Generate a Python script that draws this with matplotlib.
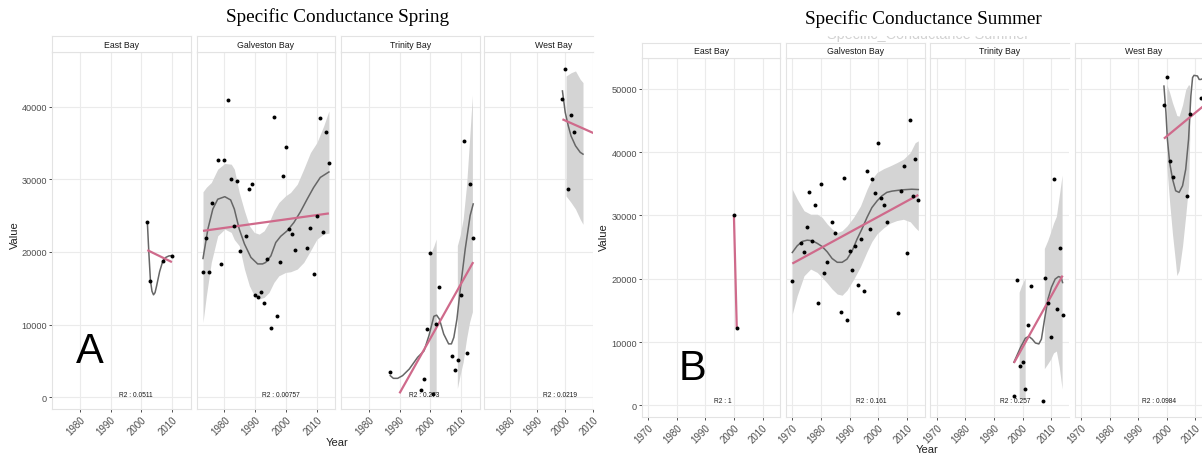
import numpy as np
import matplotlib.pyplot as plt

plt.rcParams['font.family'] = ['Liberation Sans', 'DejaVu Sans']

nan = np.nan
bays = ['East Bay', 'Galveston Bay', 'Trinity Bay', 'West Bay']

# ---------------- Spring (A) ----------------
spr_years = {
    'East Bay': [2002, 2003, 2007, 2010],
    'Galveston Bay': [1973, 1974, 1975, 1976, 1978, 1979, 1980, 1981, 1982, 1983,
                      1984, 1985, 1987, 1988, 1989, 1990, 1991, 1992, 1993, 1994,
                      1995, 1996, 1997, 1998, 1999, 2000, 2001, 2002, 2003, 2007,
                      2008, 2009, 2010, 2011, 2012, 2013, 2014],
    'Trinity Bay': [1987, 1997, 1998, 1999, 2000, 2001, 2002, 2003, 2007, 2008,
                    2009, 2010, 2011, 2012, 2013, 2014],
    'West Bay': [1999, 2000, 2001, 2002, 2003],
}
spr_vals = {
    'East Bay': [24100, 15950, 18700, 19500],
    'Galveston Bay': [17300, 21850, 17200, 26750, 32700, 18300, 32650, 40900, 30000, 23600,
                      29700, 20150, 22250, 28700, 29350, 14050, 13750, 14450, 12950, 19050,
                      9600, 38500, 11250, 18650, 30400, 34500, 23150, 22450, 20250, 20550,
                      23300, 16950, 24900, 38400, 22750, 36550, 32200],
    'Trinity Bay': [3450, 1050, 2500, 9400, 19900, 450, 10100, 15200, 5650, 3800,
                    5200, 14050, 35250, 6150, 29350, 21950],
    'West Bay': [41100, 45200, 28650, 38850, 36500],
}
spr_smooth_x = {
    'East Bay': [2002, 2002.5, 2003, 2003.5, 2004, 2004.5, 2005, 2005.5, 2006, 2007, 2008, 2009, 2010],
    'Galveston Bay': [1973, 1974.6, 1976.2, 1977.8, 1980.1, 1982.0, 1983.2, 1984.8, 1986.5, 1988.6,
                      1990.8, 1992.4, 1993.4, 1995.1, 1996.7, 1998.3, 2000.4, 2002.6, 2004.7, 2006.9,
                      2009.0, 2011.2, 2014],
    'Trinity Bay': [1987, 1988, 1989.4, 1991, 1993.2, 1995.9, 1998, 1999.6, 2001.2, 2002.1,
                    2003, 2004.4, 2006, 2006.9, 2007.7, 2008.7, 2009.8, 2011.4, 2013, 2014],
    'West Bay': [1999, 2000, 2001.1, 2002.1, 2003.7, 2005.4, 2006.4],
}
spr_smooth_y = {
    'East Bay': [24100, 19800, 16100, 14600, 14100, 14400, 15300, 16300, 17300, 18700, 19250, 19450, 19500],
    'Galveston Bay': [19100, 23150, 25900, 27250, 27600, 27150, 25900, 23150, 21100, 19250,
                      18350, 18350, 18550, 19450, 21300, 22150, 22900, 24050, 25500, 27250,
                      28850, 30250, 31000],
    'Trinity Bay': [2980, 2610, 2610, 2980, 3900, 5500, 6400, 8500, 11150, 11300,
                    10750, 8700, 7350, 7350, 8250, 10750, 14900, 20400, 25000, 26600],
    'West Bay': [42150, 39200, 37350, 35950, 34600, 33700, 33450],
}
spr_band_x = {
    'East Bay': [],
    'Galveston Bay': [1973, 1974.1, 1975.7, 1977.8, 1980.1, 1982.2, 1983.2, 1984.8, 1986.5, 1988.1,
                      1989.7, 1991.3, 1992.9, 1994.5, 1996.1, 1997.7, 1999.9, 2001.5, 2003.7, 2005.8,
                      2008.0, 2010.1, 2012.3, 2014],
    'Trinity Bay': [1999.9, 2000.6, 2001.4, 2002.1, nan, 2009.0, 2009.9, 2010.9, 2012.0, 2013.0, 2013.9],
    'West Bay': [2000.3, 2002.1, 2003.7, 2005.4, 2006.4],
}
spr_band_hi = {
    'East Bay': [],
    'Galveston Bay': [28270, 28900, 29550, 31390, 32170, 32070, 31390, 28180, 25660, 23600,
                      22680, 22450, 22910, 24060, 25660, 26800, 27720, 28180, 29320, 31390,
                      33680, 35050, 37340, 39400],
    'Trinity Bay': [19400, 20000, 20800, 21700, nan, 20800, 22200, 24500, 29100, 35500, 41500],
    'West Bay': [44200, 44650, 44900, 43750, 43300],
}
spr_band_lo = {
    'East Bay': [],
    'Galveston Bay': [10310, 13980, 18560, 22220, 23140, 22680, 21700, 20850, 17640, 15350,
                      13980, 13520, 13750, 14430, 15810, 16720, 17180, 17270, 17640, 18560,
                      20160, 21760, 22450, 22590],
    'Trinity Bay': [250, 200, 200, 250, nan, 1150, 3000, 4800, 8000, 10300, 11700],
    'West Bay': [27700, 26800, 25900, 24500, 23800],
}
spr_lm_x = {'East Bay': [2002, 2010], 'Galveston Bay': [1973, 2014],
            'Trinity Bay': [1990, 2014], 'West Bay': [1999, 2014]}
spr_lm_y = {'East Bay': [20250, 18600], 'Galveston Bay': [22900, 25300],
            'Trinity Bay': [550, 18600], 'West Bay': [38250, 35700]}
spr_r2 = ['R2 : 0.0511', 'R2 : 0.00757', 'R2 : 0.273', 'R2 : 0.0219']

# ---------------- Summer (B) ----------------
sum_years = {
    'East Bay': [2000, 2001],
    'Galveston Bay': [1970, 1973, 1974, 1975, 1976, 1977, 1978, 1979, 1980, 1981,
                      1982, 1984, 1985, 1987, 1988, 1989, 1990, 1991, 1992, 1993,
                      1994, 1995, 1996, 1997, 1998, 1999, 2000, 2001, 2002, 2003,
                      2007, 2008, 2009, 2010, 2011, 2012, 2013, 2014],
    'Trinity Bay': [1997, 1998, 1999, 2000, 2001, 2002, 2003, 2007, 2008, 2009,
                    2010, 2011, 2012, 2013, 2014],
    'West Bay': [1999, 2000, 2001, 2002, 2007, 2008, 2012],
}
sum_vals = {
    'East Bay': [30100, 12200],
    'Galveston Bay': [19700, 25700, 24300, 28250, 33700, 26000, 31600, 16200, 35000, 20850,
                      22700, 29000, 27200, 14700, 36000, 13550, 24450, 21350, 25100, 18950,
                      26300, 18100, 37050, 27900, 35800, 33550, 41400, 32800, 31650, 29000,
                      14550, 33850, 37800, 24000, 45150, 33050, 39000, 32400],
    'Trinity Bay': [1450, 19750, 6200, 6900, 2500, 12650, 18900, 700, 20150, 16100,
                    10750, 35750, 15250, 24800, 14300],
    'West Bay': [47450, 51900, 38550, 36100, 33150, 46100, 48550],
}
sum_smooth_x = {
    'East Bay': [],
    'Galveston Bay': [1970, 1971.7, 1973.5, 1975.2, 1977, 1978.7, 1980.4, 1982.2, 1983.9, 1985.7,
                      1987.4, 1989.1, 1990.9, 1992.6, 1994.3, 1996.1, 1997.8, 1999.6, 2001.3, 2003,
                      2004.8, 2006.5, 2008.3, 2010, 2011.7, 2014],
    'Trinity Bay': [1997, 1999.3, 2001, 2002.2, 2003.4, 2004.5, 2005.7, 2006.6, 2007.7, 2008.9,
                    2010.1, 2011.4, 2012.6, 2013.5, 2014],
    'West Bay': [1999, 1999.7, 2000.2, 2001, 2002, 2003.1, 2004.3, 2005.5, 2006.6, 2007.6,
                 2008.4, 2009, 2009.5, 2010.7, 2011.3, 2011.9, 2012.6],
}
sum_smooth_y = {
    'East Bay': [],
    'Galveston Bay': [24150, 25200, 25900, 26100, 26000, 25600, 25100, 24250, 23200, 22600,
                      22600, 23100, 24400, 26250, 27850, 29700, 31250, 32300, 33100, 33650,
                      33850, 33950, 34050, 34100, 34150, 34100],
    'Trinity Bay': [6800, 9150, 10600, 10900, 10450, 9850, 9700, 10450, 13600, 16800,
                    18650, 19950, 20350, 20200, 19400],
    'West Bay': [50450, 46250, 42050, 38350, 35750, 33900, 33650, 34700, 37300, 42050,
                 48900, 51800, 52150, 52050, 51500, 51500, 51650],
}
sum_band_x = {
    'East Bay': [],
    'Galveston Bay': [1970, 1971.7, 1974.1, 1976.4, 1978.7, 1980.4, 1982.2, 1983.9, 1985.7, 1987.4,
                      1989.1, 1991.4, 1993.8, 1996.1, 1997.8, 1999.6, 2001.9, 2004.2, 2006.5, 2008.8,
                      2011.2, 2012.9, 2014],
    'Trinity Bay': [1999, 1999.8, 2000.5, 2001.1, nan, 2007.8, 2009, 2010, 2011, 2012, 2013, 2014],
    'West Bay': [2000, 2001, 2002, 2003, 2003.5, 2004.3, 2005.5, 2006.6, 2007.6, 2008.0],
}
sum_band_hi = {
    'East Bay': [],
    'Galveston Bay': [34150, 32600, 30750, 30200, 30200, 29700, 28650, 27850, 27300, 27600,
                      28350, 29700, 31500, 34150, 35750, 36800, 37400, 37850, 38350, 38900,
                      39950, 41500, 41800],
    'Trinity Bay': [17800, 18800, 19500, 20000, nan, 24700, 26000, 27300, 28700, 29800, 33000, 36300],
    'West Bay': [50700, 49400, 47800, 46500, 45800, 45700, 47500, 49900, 50700, 50500],
}
sum_band_lo = {
    'East Bay': [],
    'Galveston Bay': [14420, 17300, 20470, 21530, 21000, 20200, 19300, 18370, 17580, 17400,
                      18200, 19900, 21900, 24300, 25900, 27100, 28050, 28800, 29200, 29400,
                      29000, 28100, 27600],
    'Trinity Bay': [1000, 900, 900, 1000, nan, 5700, 6500, 7200, 8200, 8500, 6000, 2500],
    'West Bay': [37800, 32000, 27000, 22800, 20500, 21300, 25200, 30000, 34700, 42000],
}
sum_lm_x = {'East Bay': [2000, 2001], 'Galveston Bay': [1970, 2014],
            'Trinity Bay': [1997, 2014], 'West Bay': [1999, 2014]}
sum_lm_y = {'East Bay': [30100, 12200], 'Galveston Bay': [22400, 33250],
            'Trinity Bay': [6700, 20500], 'West Bay': [42150, 47750]}
sum_r2 = ['R2 : 1', 'R2 : 0.161', 'R2 : 0.257', 'R2 : 0.0984']

# ---------------- figure ----------------
W, H = 1202, 456
fig = plt.figure(figsize=(W / 100, H / 100), dpi=100)
fig.patch.set_facecolor('white')


def px_axes(x0, y0, x1, y1):
    return fig.add_axes([x0 / W, 1 - y1 / H, (x1 - x0) / W, (y1 - y0) / H])


def draw_half(years, vals, smx, smy, bx, blo, bhi, lmx, lmy, r2, cfg):
    for i, bay in enumerate(bays):
        left = cfg['lefts'][i]
        right = min(left + cfg['pw'], cfg['cut'])
        frac = (right - left) / cfg['pw']
        x0, x1 = cfg['xlim']

        ax = px_axes(left, cfg['top'], right, cfg['bottom'])
        ax.set_xlim(x0, x0 + (x1 - x0) * frac)
        ax.set_ylim(*cfg['ylim'])
        ax.set_xticks(cfg['xticks'], [str(t) for t in cfg['xticks']])
        ax.set_yticks(cfg['yticks'], [str(t) for t in cfg['yticks']])
        ax.grid(True, color='#EBEBEB', linewidth=0.8)
        ax.set_axisbelow(True)
        for s in ax.spines.values():
            s.set_color('#E3E3E3')
            s.set_linewidth(0.8)
        if frac < 1:
            ax.spines['right'].set_visible(False)
        ax.tick_params(length=2.5, width=0.6, color='#333333', labelcolor='#4D4D4D', pad=1)
        ax.tick_params(axis='x', labelsize=7)
        ax.tick_params(axis='y', labelsize=6.6)
        if i > 0:
            ax.tick_params(axis='y', left=False, labelleft=False)
        plt.setp(ax.get_xticklabels(), rotation=45, ha='right', va='top',
                 rotation_mode='anchor')

        if len(bx[bay]):
            ax.fill_between(bx[bay], blo[bay], bhi[bay], color='#D4D4D4', linewidth=0, zorder=2)
        if len(smx[bay]):
            ax.plot(smx[bay], smy[bay], color='#666666', linewidth=1.1, zorder=3)
        ax.plot(lmx[bay], lmy[bay], color='#CF6A8B', linewidth=1.6, zorder=3,
                solid_capstyle='butt')
        ax.scatter(years[bay], vals[bay], s=8, color='black', linewidths=0, zorder=4)
        ax.text(cfg['r2_x'][i], cfg['r2_y'], r2[i], ha='center', va='center',
                fontsize=4.8, color='#1A1A1A', zorder=5)

        sax = px_axes(left, cfg['strip_top'], right, cfg['top'])
        sax.set_xticks([])
        sax.set_yticks([])
        for s in sax.spines.values():
            s.set_color('#E3E3E3')
            s.set_linewidth(0.8)
        if frac < 1:
            sax.spines['right'].set_visible(False)
        sax.text(0.5 / frac, 0.5, bay, transform=sax.transAxes, ha='center',
                 va='center', fontsize=6.3, color='#1A1A1A')


cfg_a = dict(lefts=[52, 196.7, 341, 484.5], pw=138.5, cut=593,
             strip_top=37.3, top=53.3, bottom=410,
             xlim=(1970.95, 2016.05), ylim=(-1608, 47464),
             xticks=[1980, 1990, 2000, 2010],
             yticks=[0, 10000, 20000, 30000, 40000],
             r2_x=[1998.2, 1998.2, 1998.2, 1998.2], r2_y=357)
cfg_b = dict(lefts=[641.7, 786, 930.3, 1074.6], pw=138.6, cut=1202,
             strip_top=44, top=59.3, bottom=418.3,
             xlim=(1967.8, 2016.2), ylim=(-1897, 54843),
             xticks=[1970, 1980, 1990, 2000, 2010],
             yticks=[0, 10000, 20000, 30000, 40000, 50000],
             r2_x=[1996.1, 1997.4, 1997.5, 1997.4], r2_y=680)

draw_half(spr_years, spr_vals, spr_smooth_x, spr_smooth_y, spr_band_x, spr_band_lo,
          spr_band_hi, spr_lm_x, spr_lm_y, spr_r2, cfg_a)
draw_half(sum_years, sum_vals, sum_smooth_x, sum_smooth_y, sum_band_x, sum_band_lo,
          sum_band_hi, sum_lm_x, sum_lm_y, sum_r2, cfg_b)


def ftext(x, y, s, **kw):
    return fig.text(x / W, 1 - y / H, s, **kw)


# partly hidden subtitle under the summer title: only its lower edge shows,
# so it lives in a thin clipping axes
gax = px_axes(800, 36.5, 1060, 43.5)
gax.set_axis_off()
gax.set_xlim(800, 1060)
gax.set_ylim(43.5, 36.5)
gax.text(928, 38.8, 'Specific_Conductance Summer', ha='center', va='baseline',
         fontsize=10.4, color='#D2D2D2', clip_on=True)

# titles
ftext(338, 22, 'Specific Conductance Spring', ha='center', va='baseline',
      fontsize=13.8, family='Liberation Serif', color='black')
ftext(923, 24.5, 'Specific Conductance Summer', ha='center', va='baseline',
      fontsize=13.8, family='Liberation Serif', color='black')

# axis titles
ftext(15, 235, 'Value', rotation=90, ha='center', va='center', fontsize=8, color='#222222')
ftext(604, 237, 'Value', rotation=90, ha='center', va='center', fontsize=8, color='#222222')
ftext(337, 443, 'Year', ha='center', va='center', fontsize=8, color='#222222')
ftext(927, 450, 'Year', ha='center', va='center', fontsize=8, color='#222222')

# panel letters
ftext(90, 363.3, 'A', ha='center', va='baseline', fontsize=30, color='black')
ftext(692.7, 380, 'B', ha='center', va='baseline', fontsize=30, color='black')

fig.savefig('out.png', dpi=100, facecolor='white')
